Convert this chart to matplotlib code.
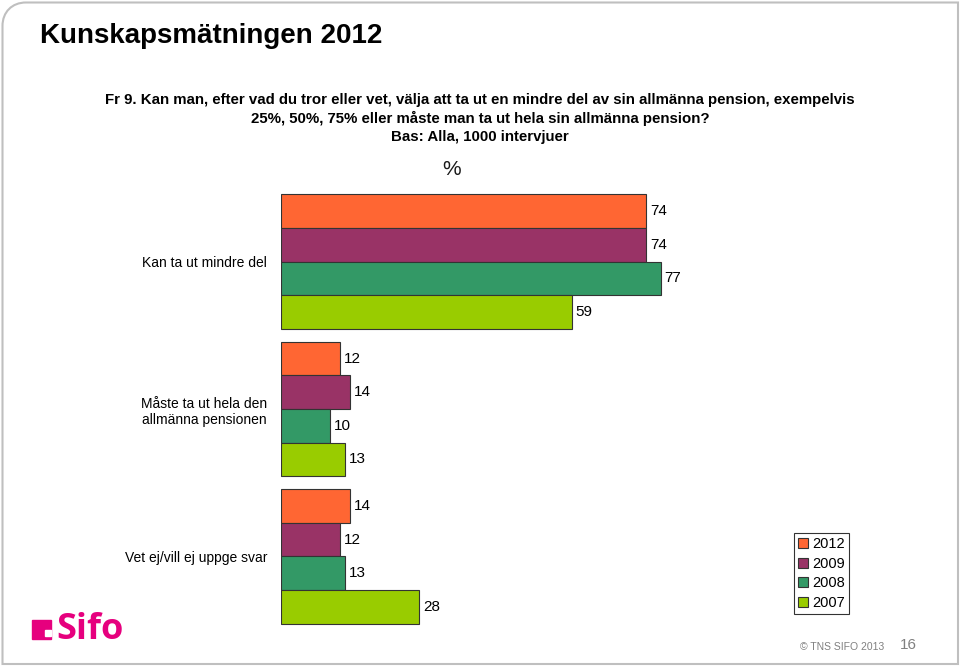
import matplotlib
matplotlib.use("Agg")
import matplotlib.pyplot as plt
import matplotlib.patches as mpatches
from matplotlib.path import Path
import numpy as np

plt.rcParams["font.family"] = ["Liberation Sans", "DejaVu Sans"]

categories = ["Kan ta ut mindre del", "Måste ta ut hela den\nallmänna pensionen", "Vet ej/vill ej uppge svar"]
years = ["2012", "2009", "2008", "2007"]
values = {
    "2012": [74, 12, 14],
    "2009": [74, 14, 12],
    "2008": [77, 10, 13],
    "2007": [59, 13, 28],
}
COLORS = {
    "2012": "#ff6633",
    "2009": "#993366",
    "2008": "#339966",
    "2007": "#99cc00",
}

W, H = 960, 668
fig = plt.figure(figsize=(9.6, 6.68), dpi=100)


def px(x, y):
    # pixel position (from top-left) to figure fraction
    return (x / W, 1 - y / H)


# slide frame, only the top-left corner is rounded
verts = [px(2.5, 664), px(2.5, 26), px(2.5, 12), px(12, 2.5), px(26, 2.5), px(958, 2.5), px(958, 664), px(2.5, 664)]
codes = [Path.MOVETO, Path.LINETO, Path.CURVE4, Path.CURVE4, Path.CURVE4, Path.LINETO, Path.LINETO, Path.CLOSEPOLY]
fig.patches.append(mpatches.PathPatch(Path(verts, codes), transform=fig.transFigure, fill=False,
                                      edgecolor="#bfbfbf", linewidth=1.5))

fig.text(*px(40, 36), "Kunskapsmätningen 2012", fontsize=20, fontweight="bold", va="center", ha="left")
question = ("Fr 9. Kan man, efter vad du tror eller vet, välja att ta ut en mindre del av sin allmänna pension, exempelvis\n"
            "25%, 50%, 75% eller måste man ta ut hela sin allmänna pension?\n"
            "Bas: Alla, 1000 intervjuer")
fig.text(*px(480, 93), question, fontsize=10.8, fontweight="bold", ha="center", va="top", linespacing=1.36)
fig.text(*px(452, 170), "%", fontsize=15, ha="center", va="center", color="#1a1a1a")

ax = fig.add_axes([281 / W, 1 - 630 / H, 493 / W, 442 / H])
bar_h = 0.228
n = len(categories)
for j, yr in enumerate(years):
    y = np.arange(n) + (j - 1.5) * bar_h
    ax.barh(y, values[yr], height=bar_h, color=COLORS[yr], edgecolor="#333333", linewidth=0.8, label=yr)
    for yy, v in zip(y, values[yr]):
        ax.text(v + 0.8, yy, f"{v}", va="center", ha="left", fontsize=11)

ax.set_xlim(0, 100)
ax.set_ylim(n - 0.5, -0.5)
ax.set_yticks(range(n))
ax.set_yticklabels(categories, fontsize=10)
ax.tick_params(axis="y", length=0, pad=10)
ax.set_xticks([])
for s in ax.spines.values():
    s.set_visible(False)

leg = ax.legend(loc="upper left", bbox_to_anchor=px(794, 533), bbox_transform=fig.transFigure,
                fontsize=10.5, frameon=True, fancybox=False, edgecolor="black", handlelength=0.65,
                handleheight=0.65, handletextpad=0.3, borderpad=0.3, labelspacing=0.38, borderaxespad=0)
leg.get_frame().set_linewidth(0.8)

# Sifo logo
pink = "#e6007e"
fig.patches.append(mpatches.Rectangle(px(32, 639), 19 / W, 19 / H, transform=fig.transFigure, color=pink))
fig.patches.append(mpatches.Rectangle(px(45, 636), 6 / W, 6 / H, transform=fig.transFigure, color="white"))
fig.text(*px(56, 639), "Sifo", fontsize=26, fontweight="bold", color=pink, ha="left", va="baseline",
         family=["Open Sans", "DejaVu Sans"])

fig.text(*px(842, 647), "© TNS SIFO 2013", fontsize=7.5, color="#808080", ha="center", va="center")
fig.text(*px(908, 645), "16", fontsize=11, color="#808080", ha="center", va="center")

fig.savefig("out.png", dpi=100)
